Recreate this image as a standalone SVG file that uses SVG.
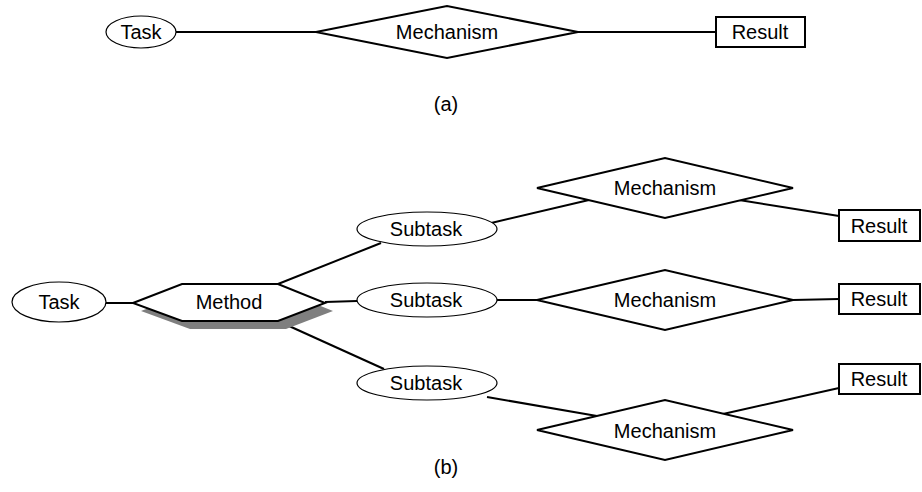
<svg xmlns="http://www.w3.org/2000/svg" width="922" height="492" viewBox="0 0 922 492">
  <style>
    text { font-family: "Liberation Sans", Arial, sans-serif; font-size: 20px; fill: #000; text-anchor: middle; }
    .shape { fill: #fff; stroke: #000; stroke-width: 2; }
    .thin { fill: #fff; stroke: #000; stroke-width: 1.2; }
    .link { fill: none; stroke: #000; stroke-width: 2; }
    .shadow { fill: #7f7f7f; stroke: none; }
  </style>

  <!-- (a) single task -->
  <g id="connectors-a">
    <line class="link" x1="176" y1="32" x2="316" y2="32"/>
    <line class="link" x1="578" y1="32" x2="716" y2="32"/>
  </g>
  <g id="a-task">
    <ellipse class="thin" cx="141" cy="32" rx="35" ry="16"/>
    <text x="141" y="39">Task</text>
  </g>
  <g id="a-mechanism">
    <polygon class="shape" points="316,32 447,6 578,32 447,58"/>
    <text x="447" y="39">Mechanism</text>
  </g>
  <g id="a-result">
    <rect class="shape" x="716" y="17" width="89" height="30"/>
    <text x="760" y="39">Result</text>
  </g>
  <text id="label-a" x="446" y="111">(a)</text>

  <!-- (b) task decomposed by a method -->
  <g id="connectors-b">
    <line class="link" x1="106" y1="303" x2="134" y2="303"/>
    <line class="link" x1="278" y1="284" x2="381" y2="243"/>
    <line class="link" x1="325" y1="302" x2="357" y2="301"/>
    <line class="link" x1="278" y1="321" x2="384" y2="369"/>
    <line class="link" x1="487" y1="224" x2="589" y2="200"/>
    <line class="link" x1="739" y1="200" x2="839" y2="216"/>
    <line class="link" x1="497" y1="300" x2="537" y2="300"/>
    <line class="link" x1="793" y1="300" x2="839" y2="299"/>
    <line class="link" x1="487" y1="397" x2="597" y2="416"/>
    <line class="link" x1="723" y1="414" x2="839" y2="388"/>
  </g>

  <g id="b-task">
    <ellipse class="thin" cx="59" cy="302" rx="47" ry="20"/>
    <text x="59" y="309">Task</text>
  </g>

  <g id="b-method">
    <polygon class="shadow" points="141,311 190,292 286,292 333,311 286,329 190,329"/>
    <polygon class="shape" points="133,303 182,284 278,284 325,303 278,321 182,321"/>
    <text x="229" y="309">Method</text>
  </g>

  <g id="b-subtask-1">
    <ellipse class="thin" cx="427" cy="229" rx="70" ry="17"/>
    <text x="426" y="236">Subtask</text>
  </g>
  <g id="b-subtask-2">
    <ellipse class="thin" cx="427" cy="300" rx="70" ry="17"/>
    <text x="426" y="307">Subtask</text>
  </g>
  <g id="b-subtask-3">
    <ellipse class="thin" cx="427" cy="383" rx="70" ry="17"/>
    <text x="426" y="390">Subtask</text>
  </g>

  <g id="b-mechanism-1">
    <polygon class="shape" points="537,188 665,158 793,188 665,218"/>
    <text x="665" y="195">Mechanism</text>
  </g>
  <g id="b-mechanism-2">
    <polygon class="shape" points="537,300 665,270 793,300 665,330"/>
    <text x="665" y="307">Mechanism</text>
  </g>
  <g id="b-mechanism-3">
    <polygon class="shape" points="537,430 665,400 793,430 665,460"/>
    <text x="665" y="438">Mechanism</text>
  </g>

  <g id="b-result-1">
    <rect class="shape" x="839" y="210" width="81" height="31"/>
    <text x="879" y="233">Result</text>
  </g>
  <g id="b-result-2">
    <rect class="shape" x="839" y="284" width="81" height="30"/>
    <text x="879" y="306">Result</text>
  </g>
  <g id="b-result-3">
    <rect class="shape" x="839" y="364" width="81" height="30"/>
    <text x="879" y="386">Result</text>
  </g>

  <text id="label-b" x="446" y="474">(b)</text>
</svg>
